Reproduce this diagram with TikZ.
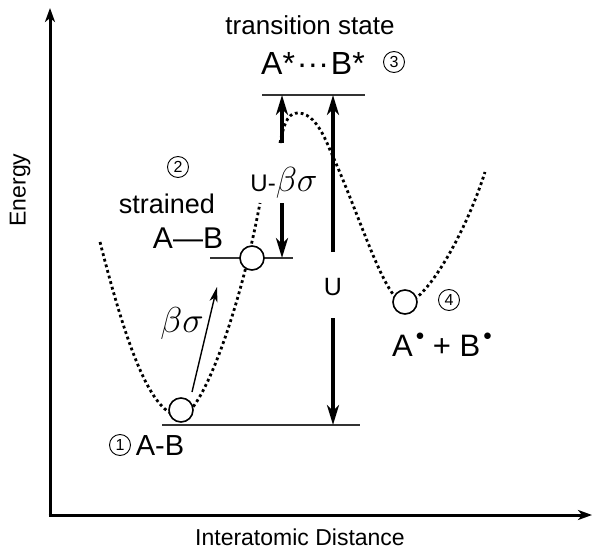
\documentclass[tikz,border=0pt]{standalone}
\usepackage{graphicx}
\usepackage{fontspec}
\setmainfont{Liberation Sans}
\usetikzlibrary{arrows.meta,positioning}
\tikzset{
  well/.style={line width=2.8pt,dash pattern=on 2.8pt off 3pt},
  level/.style={line width=2pt,black!80},
  bigarrow/.style={line width=4pt,-{Stealth[length=20pt,width=12pt,inset=6pt]}},
  thinarrow/.style={line width=1.4pt,-{Stealth[length=15pt,width=8pt,inset=4pt]}},
  axis/.style={line width=3pt,-{Stealth[length=14pt,width=10pt,inset=4pt]}},
  ball/.style={circle,draw,line width=1.6pt,fill=white,minimum size=24pt,inner sep=0pt},
  lbl/.style={inner sep=0pt,font=\fontsize{30}{32}\selectfont},
  small/.style={inner sep=0pt,font=\fontsize{23}{26}\selectfont},
  num/.style={circle,draw,line width=0.9pt,minimum size=21pt,inner sep=0pt,
    font=\fontsize{16}{16}\selectfont}
}
\newcommand{\raddot}{\kern3pt\raisebox{16pt}{\scalebox{0.68}{$\bullet$}}}
\newcommand{\bsig}[1]{\scalebox{#1}{$\beta\sigma$}}

\begin{document}
\begin{tikzpicture}[x=1pt,y=-1pt]
\useasboundingbox(0,0)rectangle(595,551);
% axes
\coordinate(O)at(50,515);
\coordinate(ytip)at(50,8);
\coordinate(xtip)at(592,515);
\draw[axis](50,516.5)--(ytip);
\draw[axis](48.5,515)--(xtip);
\node[small,rotate=90](energy)at(20,190){Energy};
\node[small](dist)at(300,537){Interatomic Distance};
% levels
\coordinate(L1a)at(162,425);\coordinate(L1b)at(360,425);
\coordinate(L2a)at(210,258);\coordinate(L2b)at(293,258);
\coordinate(L3a)at(262,95);\coordinate(L3b)at(365,95);
\draw[level](L1a)--(L1b);
\draw[level](L2a)--(L2b);
\draw[level](L3a)--(L3b);
% potential wells
\draw[well](100,242)..controls(125,340)and(150,416)..(181,416)
  ..controls(200,416)and(238,320)..(260,203);
\draw[well](280,143)..controls(285,118)and(290,113)..(298,113)
  ..controls(310,113)and(320,125)..(330,150)
  ..controls(360,215)and(385,303)..(405,303)
  ..controls(425,303)and(465,235)..(485,172);
\node[ball](s1)at(181,410){};
\node[ball](s2)at(252,258){};
\node[ball](s4)at(405,302){};
% U - beta sigma
\node[lbl,font=\fontsize{24}{26}\selectfont](ubs)at(284,183){U-\bsig{1.4}};
\coordinate(ubsup)at(282,143);
\coordinate(ubsdn)at(282,203);
\draw[bigarrow](ubsup)--(ubsup|-L3a);
\draw[bigarrow](ubsdn)--(ubsdn|-L2a);
% U
\node[lbl,font=\fontsize{25}{27}\selectfont](u)at(333,287){U};
\coordinate(uup)at(333,252);
\coordinate(udn)at(333,318);
\draw[bigarrow](uup)--(uup|-L3a);
\draw[bigarrow](udn)--(udn|-L1a);
% beta sigma
\coordinate(bsa)at(192,392);
\coordinate(bsb)at(217,287);
\draw[thinarrow](bsa)--(bsb);
\node[lbl,font=\fontsize{25}{27}\selectfont](bs)at(182,323){\bsig{1.45}};
% labels
\node[small,font=\fontsize{26}{28}\selectfont](ts)at(310,25){transition state};
\node[lbl,font=\fontsize{32}{34}\selectfont](tsab)at(313,63){A*\kern2pt···\kern2pt B*};
\node[num](n3)at(394,62){3};
\node[num](n2)at(178,167){2};
\node[small,font=\fontsize{27}{29}\selectfont](str)at(167,204){strained};
\node[lbl](strab)at(188,238){A—B};
\node[num](n1)at(120,445){1};
\node[lbl,font=\fontsize{29}{31}\selectfont](ab)at(160,446){A-B};
\node[num](n4)at(449,300){4};
\node[lbl,font=\fontsize{31}{33}\selectfont](rad)at(442,345){A\raddot\ + B\raddot};
\end{tikzpicture}
\end{document}
